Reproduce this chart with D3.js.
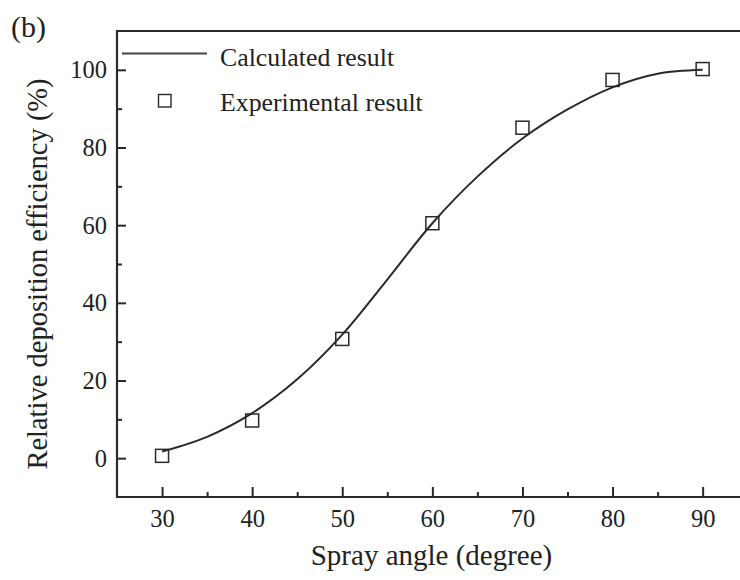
<!DOCTYPE html>
<html>
<head>
<meta charset="utf-8">
<script src="https://cdn.jsdelivr.net/npm/d3@7"></script>
<style>
  html, body { margin: 0; padding: 0; background: #fff; }
  svg { display: block; }
  text { font-family: "Liberation Serif", "Times New Roman", serif; fill: #222; }
</style>
</head>
<body>
<svg id="chart" width="740" height="580"></svg>
<script>
// ---- data ----
const expAngles = [30, 40, 50, 60, 70, 80, 90];
const expValues = [0.6, 9.7, 30.7, 60.5, 85.1, 97.4, 100.2];

const calcAngles = [30, 35, 40, 45, 50, 55, 60, 65, 70, 75, 80, 85, 90];
const calcValues = [1.7, 5.5, 11.6, 20.3, 31.8, 46.0, 60.5, 72.5, 82.3, 89.8, 95.5, 99.0, 100.0];

const xTicks = [30, 40, 50, 60, 70, 80, 90];
const xMinorTicks = [35, 45, 55, 65, 75, 85];
const yTicks = [0, 20, 40, 60, 80, 100];
const yMinorTicks = [10, 30, 50, 70, 90];

const legendLabels = ["Calculated result", "Experimental result"];

// ---- layout ----
const svg = d3.select("#chart");
const mLeft = 117, mTop = 31, mBottom = 497, mRight = 747.7;
const ink = "#2a2a2a";

const x = d3.scaleLinear().domain([25, 95]).range([mLeft, mRight]);
const y = d3.scaleLinear().domain([-10, 110]).range([mBottom, mTop]);

// axes (ticks inward)
const xAxis = d3.axisBottom(x).tickValues(xTicks).tickSize(-10).tickPadding(12.5).tickFormat(d3.format("d"));
const xMinor = d3.axisBottom(x).tickValues(xMinorTicks).tickSize(-5).tickFormat("");
const yAxis = d3.axisLeft(y).tickValues(yTicks).tickSize(-9).tickPadding(10).tickFormat(d3.format("d"));
const yMinor = d3.axisLeft(y).tickValues(yMinorTicks).tickSize(-5).tickFormat("");

function styleAxis(g) {
  g.attr("font-family", null).attr("font-size", null);
  g.select(".domain").remove();
  g.selectAll(".tick line").attr("stroke", ink).attr("stroke-width", 2);
  g.selectAll(".tick text").style("font-size", "24.5px").attr("fill", "#222")
    .style("font-family", '"Liberation Serif", serif');
}

svg.append("g").attr("transform", `translate(0,${mBottom})`).call(xAxis).call(styleAxis);
svg.append("g").attr("transform", `translate(0,${mBottom})`).call(xMinor).call(styleAxis);
svg.append("g").attr("transform", `translate(${mLeft},0)`).call(yAxis).call(styleAxis);
svg.append("g").attr("transform", `translate(${mLeft},0)`).call(yMinor).call(styleAxis);

// frame lines (left, bottom, top)
svg.append("path")
  .attr("d", `M${mRight},${mTop}H${mLeft}V${mBottom}H${mRight}`)
  .attr("fill", "none").attr("stroke", ink).attr("stroke-width", 2.2);

// calculated curve
const curvePts = calcAngles.map((a, i) => [a, calcValues[i]]);
const line = d3.line().x(d => x(d[0])).y(d => y(d[1])).curve(d3.curveCatmullRom.alpha(0.5));
svg.append("path").datum(curvePts)
  .attr("d", line).attr("fill", "none").attr("stroke", ink).attr("stroke-width", 2);

// experimental squares
const sq = 13;
svg.append("g").selectAll("rect").data(expAngles.map((a, i) => [a, expValues[i]]))
  .join("rect")
  .attr("x", d => x(d[0]) - sq / 2).attr("y", d => y(d[1]) - sq / 2)
  .attr("width", sq).attr("height", sq)
  .attr("fill", "none").attr("stroke", ink).attr("stroke-width", 1.5);

// legend
svg.append("line").attr("x1", 122).attr("x2", 207).attr("y1", 53.5).attr("y2", 53.5)
  .attr("stroke", "#444").attr("stroke-width", 1.8);
svg.append("text").attr("x", 220).attr("y", 65.5).style("font-size", "25.8px").text(legendLabels[0]);
svg.append("rect").attr("x", 158.5).attr("y", 94.5).attr("width", 12.5).attr("height", 12.5)
  .attr("fill", "none").attr("stroke", ink).attr("stroke-width", 1.4);
svg.append("text").attr("x", 220).attr("y", 111).style("font-size", "25.8px").text(legendLabels[1]);

// axis titles
svg.append("text").attr("x", 431.5).attr("y", 565).attr("text-anchor", "middle")
  .style("font-size", "29px").text("Spray angle (degree)");
svg.append("text").attr("transform", "translate(47,274) rotate(-90)").attr("text-anchor", "middle")
  .style("font-size", "28.5px").text("Relative deposition efficiency (%)");

// panel label
svg.append("text").attr("x", 11).attr("y", 37).style("font-size", "30px").text("(b)");
</script>
</body>
</html>
